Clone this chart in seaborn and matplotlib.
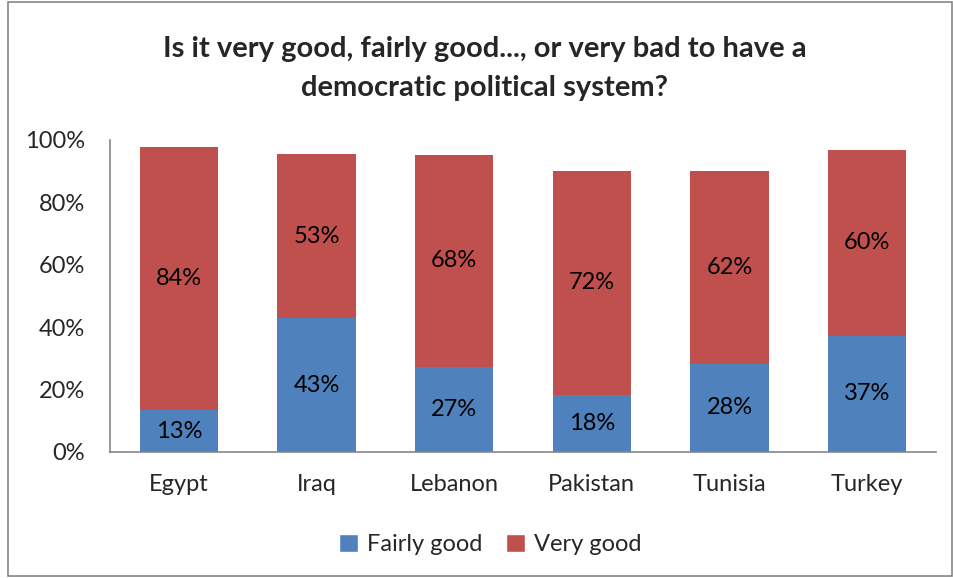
import pandas as pd
import matplotlib.pyplot as plt
import seaborn as sns
from matplotlib.patches import Patch, Rectangle

countries = ["Egypt", "Iraq", "Lebanon", "Pakistan", "Tunisia", "Turkey"]
fairly_good = [13.4, 42.8, 27.2, 18.2, 28.3, 37.3]
very_good = [84.3, 52.8, 68.0, 71.9, 61.6, 59.6]

blue = "#4F81BD"
red = "#C0504D"

sns.set_style("white")
plt.rcParams["font.family"] = ["Lato", "DejaVu Sans"]

df = pd.DataFrame({"country": countries, "fairly": fairly_good, "very": very_good})

fig = plt.figure(figsize=(9.54, 5.78), dpi=100)
ax = fig.add_axes([0.1153, 0.218, 0.8658, 0.54])

sns.barplot(data=df, x="country", y="fairly", color=blue, width=0.57,
            saturation=1, linewidth=0, ax=ax)
sns.barplot(data=df, x="country", y="very", color=red, width=0.57,
            saturation=1, linewidth=0, bottom=df["fairly"], ax=ax)

for i, (f, v) in enumerate(zip(fairly_good, very_good)):
    ax.text(i, f / 2, f"{round(f)}%", ha="center", va="center", fontsize=17, color="black")
    ax.text(i, f + v / 2, f"{round(v)}%", ha="center", va="center", fontsize=17, color="black")

ax.set_ylim(0, 100)
ax.set_xlim(-0.5, 5.5)
ax.set_yticks(range(0, 101, 20))
ax.set_yticklabels([f"{t}%" for t in range(0, 101, 20)])
ax.set_xlabel("")
ax.set_ylabel("")
ax.tick_params(axis="both", labelsize=17, length=0)
ax.tick_params(axis="x", pad=16)
ax.tick_params(axis="y", pad=18)
for side in ["top", "right"]:
    ax.spines[side].set_visible(False)
for side in ["left", "bottom"]:
    ax.spines[side].set_color("#868686")
    ax.spines[side].set_linewidth(1.2)

fig.text(0.508, 0.882, "Is it very good, fairly good..., or very bad to have a\ndemocratic political system?",
         ha="center", va="center", fontsize=21, fontweight="bold", linespacing=1.6)

handles = [Patch(facecolor=blue, label="Fairly good"), Patch(facecolor=red, label="Very good")]
fig.legend(handles=handles, loc="center", bbox_to_anchor=(0.514, 0.058), ncol=2,
           frameon=False, fontsize=17, handlelength=0.8, handleheight=0.8,
           handletextpad=0.4, columnspacing=1.0)

fig.patches.append(Rectangle((0.008, 0.003), 0.99, 0.994, transform=fig.transFigure,
                             fill=False, edgecolor="#868686", linewidth=1.2))

fig.savefig("out.png", dpi=100)
